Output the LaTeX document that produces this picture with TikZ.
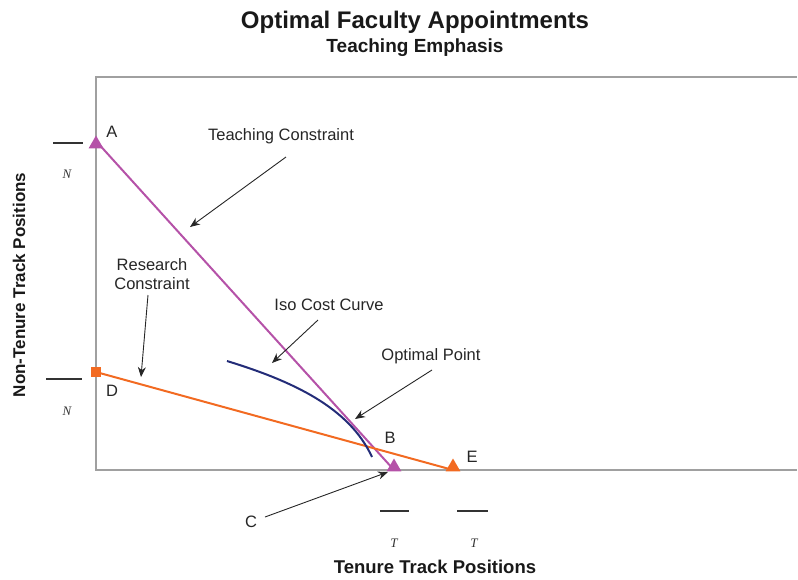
\documentclass[tikz,border=0pt]{standalone}
\usepackage{fontspec}
\setmainfont{Liberation Sans}
\newfontfamily\serifit{Liberation Serif}
\usetikzlibrary{arrows.meta,shapes.geometric}
\definecolor{tpurple}{HTML}{B552A8}
\definecolor{rorange}{HTML}{F26A21}
\definecolor{cnavy}{HTML}{232C78}
\definecolor{boxgray}{HTML}{A0A0A0}
\tikzset{
  lbl/.style={font=\fontsize{16.5}{19}\selectfont, text=black!85, inner sep=0pt},
  ptr/.style={-{Stealth[length=10pt,width=8pt]}, line width=0.9pt, black!85},
  tri/.style={regular polygon, regular polygon sides=3, minimum size=17pt, inner sep=0pt},
  sq/.style={rectangle, minimum size=10pt, inner sep=0pt},
  bar/.style={line width=1.2pt, black!80},
  ital/.style={font=\serifit\itshape\fontsize{13}{15}\selectfont, text=black!80, inner sep=0pt}
}
\begin{document}
\begin{tikzpicture}[x=1pt,y=-1pt]
\useasboundingbox (0,0) rectangle (798,579);
% titles
\node[font=\bfseries\fontsize{24}{28}\selectfont, text=black!90] (t1) at (415,22) {Optimal Faculty Appointments};
\node[font=\bfseries\fontsize{19}{22}\selectfont, text=black!90] (t2) at (415,48) {Teaching Emphasis};
\node[font=\bfseries\fontsize{18.5}{21}\selectfont, text=black!90, inner sep=0pt] (xl) at (435,567) {Tenure Track Positions};
\node[font=\bfseries\fontsize{17}{20}\selectfont, text=black!90, rotate=90] (yl) at (19,285) {Non-Tenure Track Positions};
% frame
\coordinate (tl) at (96,77);
\coordinate (tr) at (797,77);
\coordinate (bl) at (96,470);
\coordinate (br) at (797,470);
\draw[boxgray, line width=1.3pt] (tr) -- (tl) -- (bl) -- (br);
% points
\coordinate (A) at (96,141);
\coordinate (C) at (394,470);
\coordinate (D) at (96,372);
\coordinate (E) at (453,470);
% constraint lines
\draw[tpurple, line width=2pt] (A) -- (C);
\draw[rorange, line width=2pt] (D) -- (E);
% iso cost curve
\coordinate (i1) at (227,361);
\coordinate (i2) at (372,457);
\draw[cnavy, line width=2pt] (i1) .. controls (292,381) and (349,407) .. (i2);
% markers
\node[tri, fill=tpurple] (mA) at (96,144) {};
\node[tri, fill=tpurple] (mC) at (394,467) {};
\node[tri, fill=rorange] (mE) at (453,467) {};
\node[sq, fill=rorange] (mD) at (96,372) {};
% point labels
\node[lbl] (la) at (112,132) {A};
\node[lbl] (ld) at (112,391) {D};
\node[lbl] (lb) at (390,438) {B};
\node[lbl] (le) at (472,457) {E};
\node[lbl] (lc) at (251,522) {C};
% annotation labels
\node[lbl] (ltc) at (281,136) {Teaching Constraint};
\node[lbl, align=center] (lrc) at (152,274) {Research\\Constraint};
\node[lbl] (lic) at (329,305) {Iso Cost Curve};
\node[lbl] (lop) at (431,356) {Optimal Point};
% annotation arrows
\coordinate (ptc) at (190,227);
\coordinate (prc) at (141,377);
\coordinate (pic) at (272,363);
\coordinate (pop) at (355,419);
\coordinate (pc) at (388,472);
\draw[ptr] ([shift={(5,21)}]ltc.center) -- (ptc);
\draw[ptr] ([shift={(-4,21)}]lrc.center) -- (prc);
\draw[ptr] ([shift={(-11,15)}]lic.center) -- (pic);
\draw[ptr] ([shift={(1,14)}]lop.center) -- (pop);
\draw[ptr] ([shift={(14,-5)}]lc.center) -- (pc);
% bar labels
\coordinate (n1a) at (53,143); \coordinate (n1b) at (83,143);
\coordinate (n2a) at (46,379); \coordinate (n2b) at (82,379);
\coordinate (t1a) at (380,511); \coordinate (t1b) at (409,511);
\coordinate (t2a) at (457,511); \coordinate (t2b) at (488,511);
\draw[bar] (n1a) -- (n1b);
\draw[bar] (n2a) -- (n2b);
\draw[bar] (t1a) -- (t1b);
\draw[bar] (t2a) -- (t2b);
\node[ital] (n1) at (67,174) {N};
\node[ital] (n2) at (67,411) {N};
\node[ital] (tt1) at (394,543) {T};
\node[ital] (tt2) at (474,543) {T};
\end{tikzpicture}
\end{document}
